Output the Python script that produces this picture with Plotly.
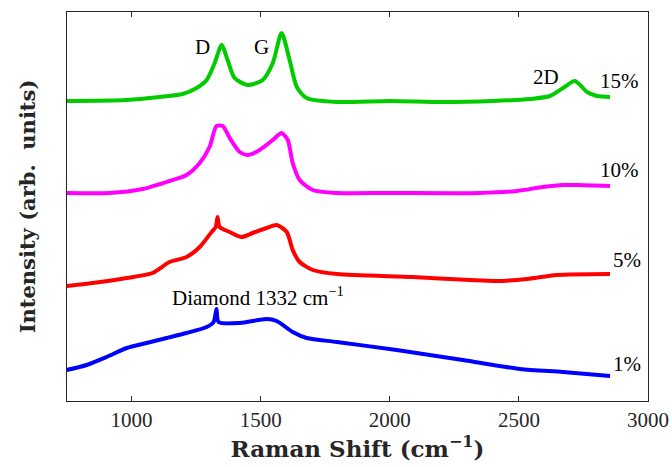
import plotly.graph_objects as go

# Raman shift (cm^-1) and intensity (arb. units, offset stacks)
x_15 = [748, 981, 1109, 1198, 1252, 1291, 1322, 1349, 1372, 1399, 1450, 1508, 1547, 1581,
        1612, 1640, 1678, 1795, 2000, 2200, 2399, 2543, 2620, 2671, 2717, 2764, 2802, 2853]
y_15 = [300, 301, 304, 307, 313, 321, 338, 356, 341, 323, 316, 321, 338, 368,
        341, 314, 303, 299, 300, 299, 300, 302, 305, 313, 320, 309, 305, 304]

x_10 = [748, 915, 1043, 1147, 1213, 1264, 1302, 1329, 1353, 1380, 1419, 1450, 1496, 1547,
        1581, 1605, 1624, 1651, 1702, 1795, 2000, 2349, 2492, 2593, 2671, 2725, 2853]
y_10 = [208, 208, 212, 220, 226, 238, 254, 275, 275, 263, 249, 246, 251, 261,
        268, 261, 238, 221, 211, 208, 208, 208, 210, 214, 216, 216, 215]

x_5 = [748, 849, 981, 1081, 1147, 1213, 1264, 1310, 1326, 1333, 1341, 1380, 1426, 1469,
       1523, 1562, 1601, 1624, 1651, 1702, 1795, 2089, 2310, 2415, 2531, 2647, 2853]
y_5 = [115, 118, 123, 128, 139, 144, 154, 169, 174, 184, 174, 169, 164, 168,
       173, 176, 169, 151, 139, 131, 127, 124, 121, 120, 122, 126, 127]

x_1 = [748, 826, 903, 981, 1058, 1136, 1213, 1291, 1318, 1329, 1337, 1419, 1523, 1562,
       1624, 1678, 1795, 2027, 2283, 2504, 2671, 2853]
y_1 = [31, 36, 44, 53, 58, 63, 68, 74, 79, 92, 79, 78, 82, 80,
       69, 63, 59, 51, 41, 32, 29, 25]

series = [
    ("15%", x_15, y_15, "#00CC00"),
    ("10%", x_10, y_10, "#FF00FF"),
    ("5%", x_5, y_5, "#FF0000"),
    ("1%", x_1, y_1, "#0000FF"),
]

x_ticks = [1000, 1500, 2000, 2500, 3000]

serif = "Liberation Serif, DejaVu Serif, serif"
bold_serif = "DejaVu Serif, Liberation Serif, serif"
axis_col = "#262626"

fig = go.Figure()
for name, xs, ys, col in series:
    fig.add_trace(go.Scatter(x=xs, y=ys, mode="lines", name=name,
                             line=dict(color=col, width=4, shape="spline", smoothing=0.7),
                             showlegend=False))

labels = [
    ("D", 1275, 354), ("G", 1504, 354), ("2D", 2605, 324),
    ("15%", 2891, 320), ("10%", 2891, 231), ("5%", 2919, 141), ("1%", 2919, 37),
    ("Diamond 1332 cm<sup>\u22121</sup>", 1488, 105),
]
for txt, ax, ay in labels:
    fig.add_annotation(x=ax, y=ay, text=txt, showarrow=False,
                       font=dict(family=serif, size=21, color="black"))

fig.update_layout(
    width=672, height=467,
    margin=dict(l=67, r=24, t=12, b=66, autoexpand=False),
    paper_bgcolor="white", plot_bgcolor="white",
    font=dict(family=serif, color=axis_col),
    xaxis=dict(range=[750, 3000], tickvals=x_ticks, ticks="inside", ticklen=5,
               tickcolor=axis_col, showline=True, linecolor=axis_col, linewidth=1,
               mirror="ticks", showgrid=False, zeroline=False, automargin=False,
               tickfont=dict(family=serif, size=21, color=axis_col),
               title=dict(text="<b>Raman Shift (cm<sup>\u22121</sup>)</b>", standoff=8,
                          font=dict(family=bold_serif, size=23, color=axis_col))),
    yaxis=dict(range=[0, 389], showticklabels=False, ticks="", showline=True,
               linecolor=axis_col, linewidth=1, mirror=True, showgrid=False, zeroline=False,
               automargin=False,
               title=dict(text="<b>Intensity (arb.  units)</b>", standoff=24,
                          font=dict(family=bold_serif, size=21, color=axis_col))),
)

fig.write_html("out.html", config={"displayModeBar": False},
               post_script="document.body.style.margin='0';document.body.style.overflow='hidden';")
